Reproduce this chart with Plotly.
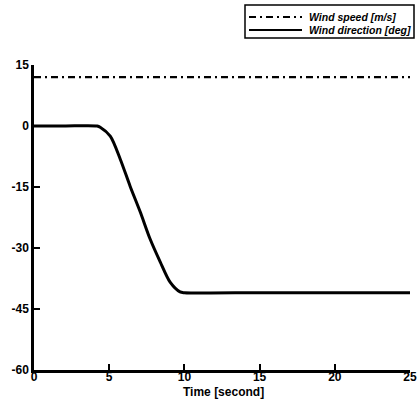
import plotly.graph_objects as go

# Data
time_speed = [0, 25]
wind_speed = [12, 12]

time_dir = [0, 2, 4.2, 4.4, 5.07, 5.73, 6.39, 7.06, 7.72, 8.39, 9.05, 9.71, 10.0, 15, 20, 25]
wind_dir = [0, 0, 0, -0.3, -2.5, -8.1, -14.8, -21.1, -27.8, -33.4, -38.4, -40.8, -41, -41, -41, -41]

x_ticks = [0, 5, 10, 15, 20, 25]
y_ticks = [15, 0, -15, -30, -45, -60]

series_names = ["Wind speed [m/s]", "Wind direction [deg]"]

W, H = 417, 401
ml, mr, mt, mb = 34, 7, 65, 31
pw = W - ml - mr
ph = H - mt - mb


def px2x(px):
    return (px - ml) / pw


def py2y(py):
    return 1 - (py - mt) / ph


speed_dash = "7px,4px,2px,4px"

fig = go.Figure()
fig.add_trace(go.Scatter(
    x=time_speed, y=wind_speed, mode="lines", name=series_names[0],
    line=dict(color="black", width=2.2, dash=speed_dash),
))
fig.add_trace(go.Scatter(
    x=time_dir, y=wind_dir, mode="lines", name=series_names[1],
    line=dict(color="black", width=3, shape="spline", smoothing=0.8),
))

# Legend drawn as a boxed key (paper coordinates)
shapes = [
    dict(type="rect", xref="paper", yref="paper",
         x0=px2x(245), x1=px2x(414), y0=py2y(38), y1=py2y(5),
         line=dict(color="black", width=1.5), fillcolor="white", layer="above"),
    dict(type="line", xref="paper", yref="paper",
         x0=px2x(249), x1=px2x(302), y0=py2y(17), y1=py2y(17),
         line=dict(color="black", width=2.2, dash=speed_dash)),
    dict(type="line", xref="paper", yref="paper",
         x0=px2x(249), x1=px2x(302), y0=py2y(30), y1=py2y(30),
         line=dict(color="black", width=2.2)),
]
annotations = [
    dict(text=series_names[0], xref="paper", yref="paper", x=px2x(307), y=py2y(17),
         xanchor="left", yanchor="middle", showarrow=False,
         font=dict(size=10.5, weight="bold", style="italic")),
    dict(text=series_names[1], xref="paper", yref="paper", x=px2x(307), y=py2y(30),
         xanchor="left", yanchor="middle", showarrow=False,
         font=dict(size=10.5, weight="bold", style="italic")),
    dict(text="Time [second]", xref="paper", yref="paper", x=px2x(223), y=py2y(392),
         xanchor="center", yanchor="middle", showarrow=False,
         font=dict(size=12, weight="bold")),
]

fig.update_layout(
    width=W, height=H,
    margin=dict(l=ml, r=mr, t=mt, b=mb, autoexpand=False),
    paper_bgcolor="white", plot_bgcolor="white",
    font=dict(family="Liberation Sans, Arial, sans-serif", color="black", size=10),
    showlegend=False,
    shapes=shapes,
    annotations=annotations,
    xaxis=dict(
        range=[0, 25], tickvals=x_ticks, ticktext=[str(v) for v in x_ticks],
        showgrid=False, zeroline=False, showline=True, linecolor="black", linewidth=2.5,
        ticks="inside", ticklen=6, tickwidth=2, tickcolor="black",
        tickfont=dict(size=12, weight="bold"), ticklabelstandoff=-6,
    ),
    yaxis=dict(
        range=[-60, 15], tickvals=y_ticks, ticktext=[str(v) for v in y_ticks],
        showgrid=False, zeroline=False, showline=True, linecolor="black", linewidth=2.5,
        ticks="inside", ticklen=6, tickwidth=2, tickcolor="black",
        tickfont=dict(size=12, weight="bold"),
    ),
)

fig.write_html(
    "out.html",
    config={"displayModeBar": False},
    post_script="document.body.style.margin='0';document.body.style.overflow='hidden';",
)
